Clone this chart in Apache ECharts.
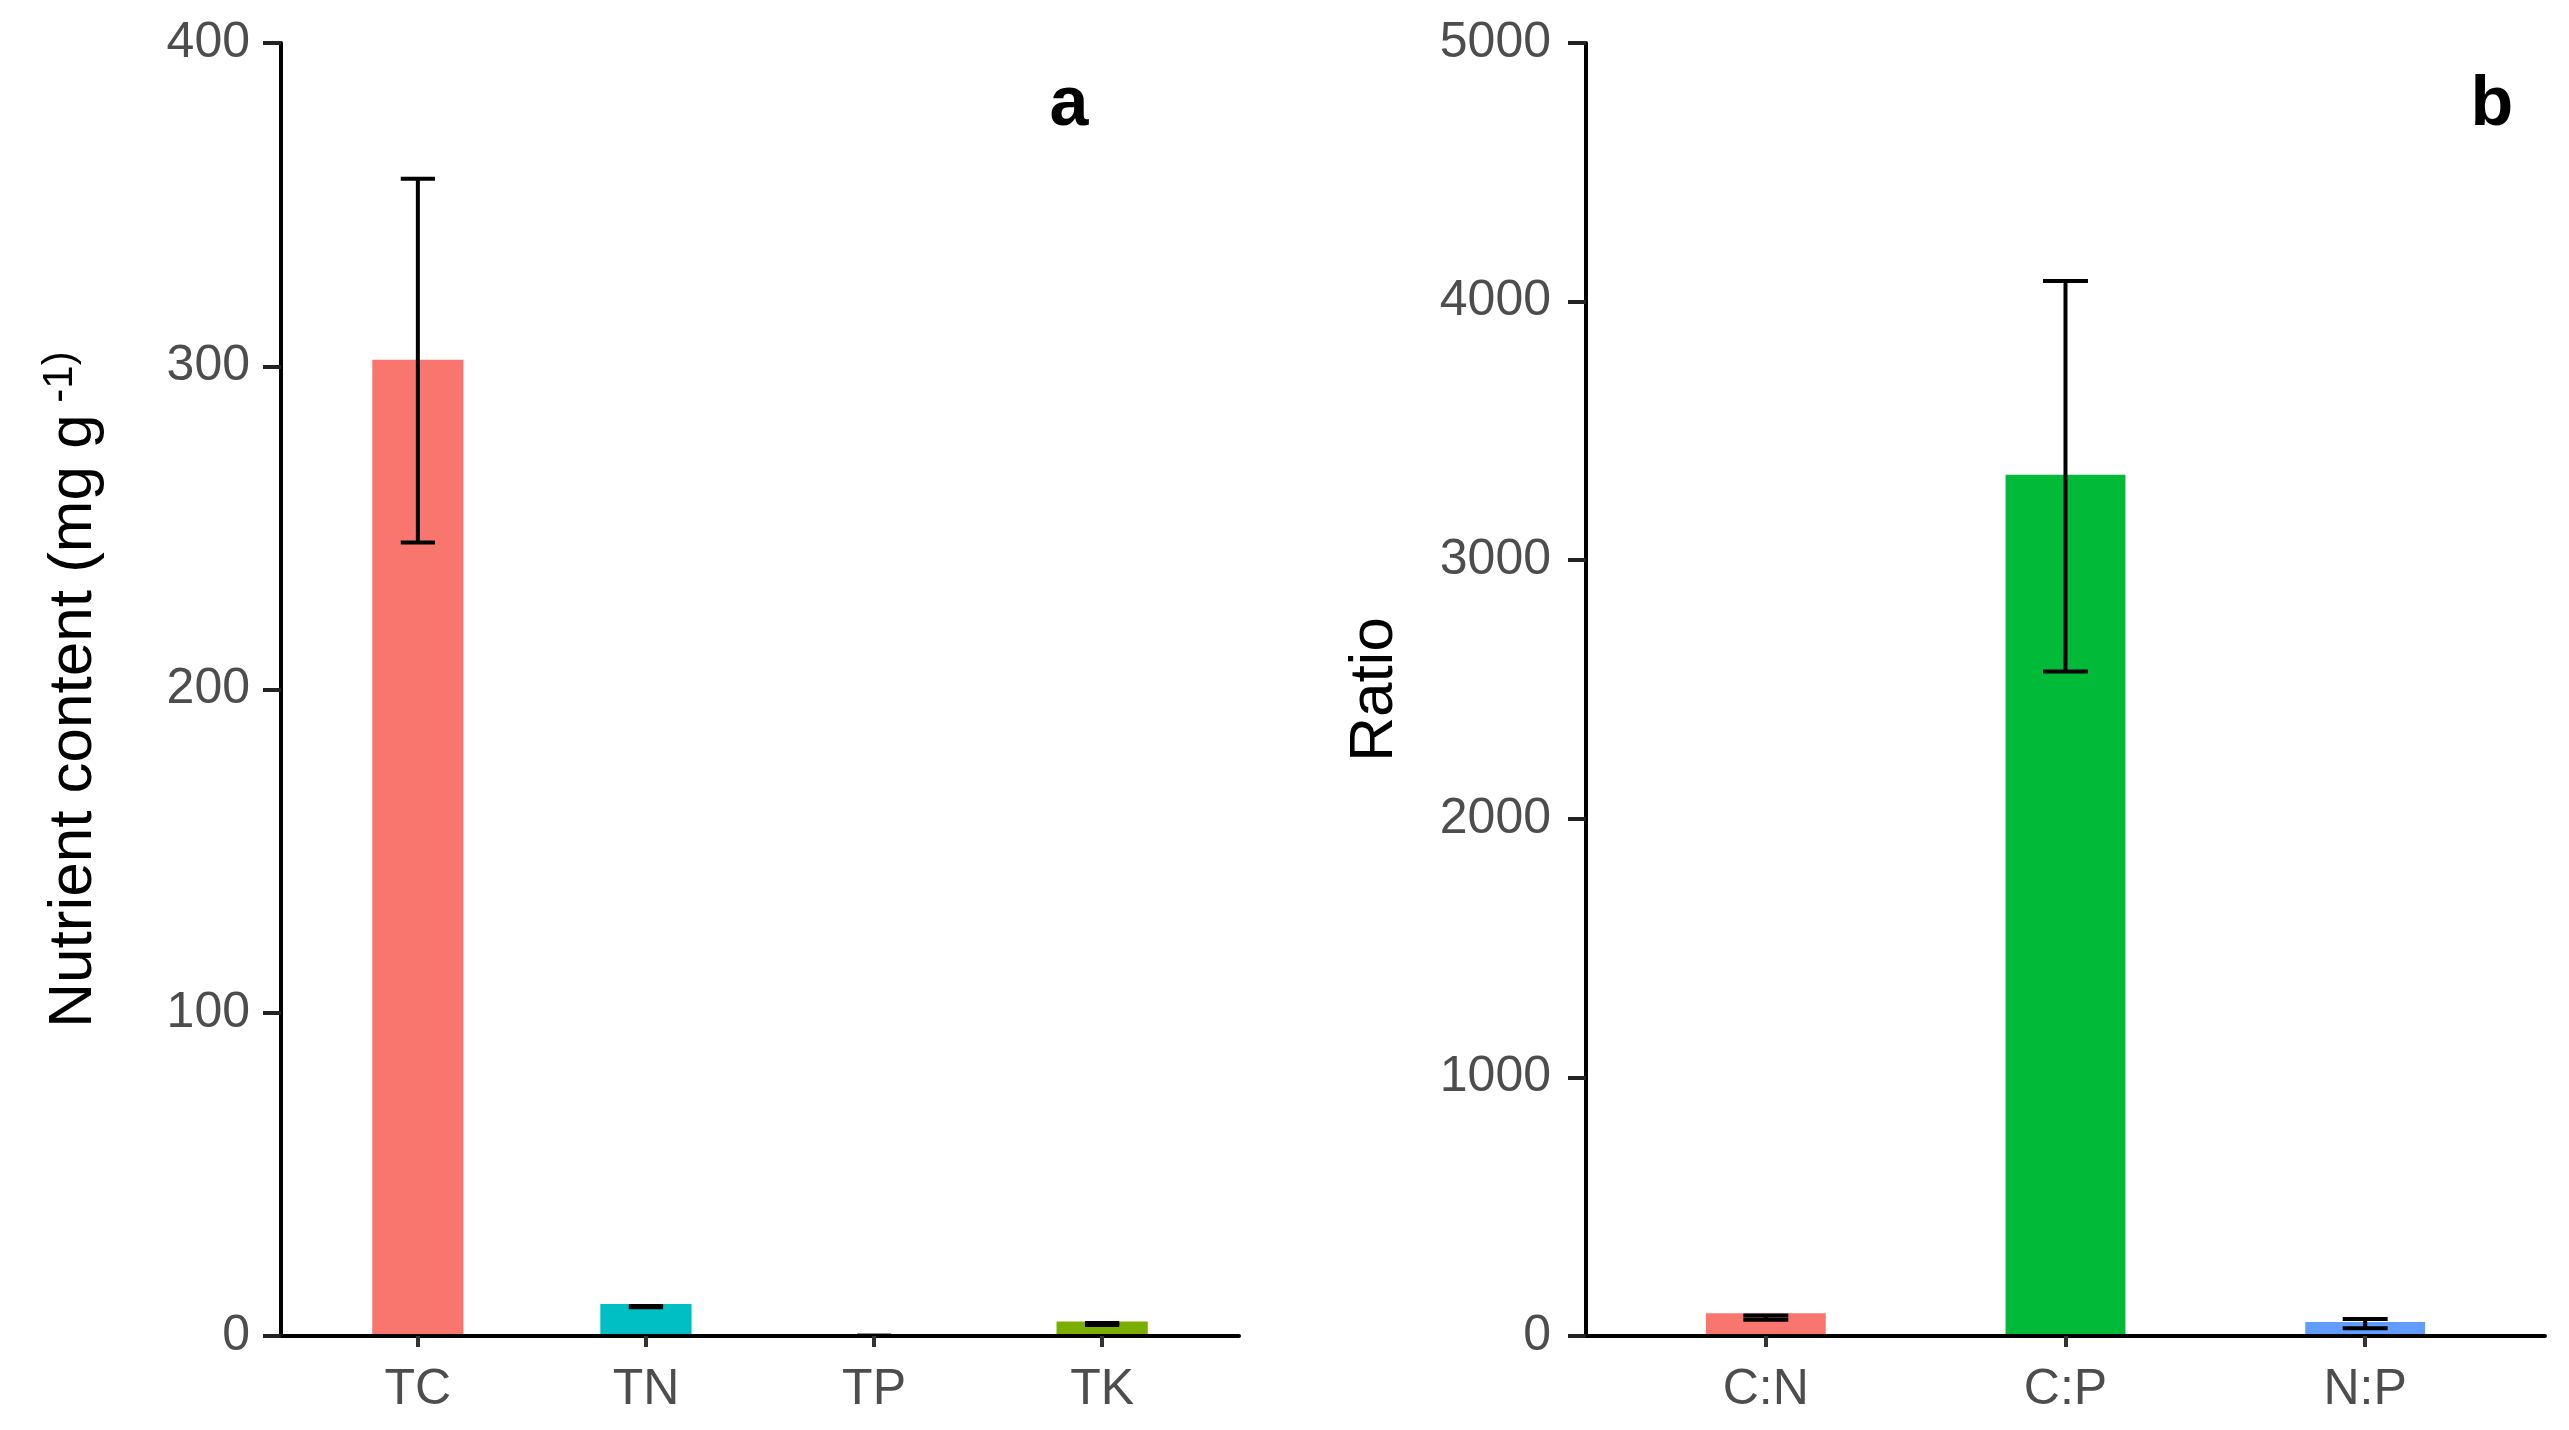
<!DOCTYPE html>
<html>
<head>
<meta charset="utf-8">
<title>Nutrient content and ratios</title>
<script src="https://cdn.jsdelivr.net/npm/echarts@6/dist/echarts.min.js"></script>
<style>
  html, body { margin: 0; padding: 0; background: #fff; }
  #chart { width: 2569px; height: 1430px; }
</style>
</head>
<body>
<div id="chart"></div>
<script>
// panel a: nutrient content (mg g-1)
const nutrientCats = ['TC', 'TN', 'TP', 'TK']
const nutrientMean = [302, 9.9, 0.05, 4.5]
const nutrientLow = [245.5, 8.9, 0.04, 3.4]
const nutrientHigh = [358, 9.3, 0.06, 4.0]
const nutrientColors = ['#F8766D', '#00BFC4', '#C77CFF', '#7CAE00']

// panel b: stoichiometric ratios
const ratioCats = ['C:N', 'C:P', 'N:P']
const ratioMean = [88, 3330, 54]
const ratioLow = [63, 2570, 30]
const ratioHigh = [79, 4080, 66]
const ratioColors = ['#F8766D', '#00BA38', '#619CFF']

const FONT = '"Liberation Sans", Arial, sans-serif'

const chart = echarts.init(document.getElementById('chart'))

// grid geometry (px)
const gridA = { left: 281, top: 43, width: 958, height: 1293 }
const gridB = { left: 1586, top: 43, width: 959, height: 1293 }

const errorBarRender = (params, api) => {
  const x = api.value(0)
  const lo = api.coord([x, api.value(1)])
  const hi = api.coord([x, api.value(2)])
  const half = api.size([0.15, 0])[0] / 2
  const style = { stroke: '#000', lineWidth: 4 }
  return {
    type: 'group',
    children: [
      { type: 'line', shape: { x1: hi[0], y1: hi[1], x2: lo[0], y2: lo[1] }, style },
      { type: 'line', shape: { x1: hi[0] - half, y1: hi[1], x2: hi[0] + half, y2: hi[1] }, style },
      { type: 'line', shape: { x1: lo[0] - half, y1: lo[1], x2: lo[0] + half, y2: lo[1] }, style }
    ]
  }
}

const xAxisBase = (gridIndex, cats) => ({
  type: 'value',
  gridIndex,
  min: -0.6,
  max: cats.length - 1 + 0.6,
  z: 10,
  axisLine: { show: true, onZero: false, lineStyle: { color: '#000', width: 4 } },
  axisTick: {
    show: true,
    customValues: cats.map((c, i) => i),
    length: 11,
    lineStyle: { color: '#333', width: 4 }
  },
  axisLabel: {
    customValues: cats.map((c, i) => i),
    formatter: v => cats[Math.round(v)],
    margin: 29,
    fontSize: 50,
    color: '#4D4D4D',
    fontFamily: FONT
  },
  splitLine: { show: false }
})

const yAxisBase = (gridIndex, max, interval, margin) => ({
  type: 'value',
  gridIndex,
  min: 0,
  max,
  interval,
  z: 10,
  axisLine: { show: true, onZero: false, lineStyle: { color: '#000', width: 4 } },
  axisTick: { show: true, length: 18, lineStyle: { color: '#222', width: 4 } },
  axisLabel: {
    margin,
    fontSize: 50,
    color: '#4D4D4D',
    fontFamily: FONT,
    padding: [8, 0, 0, 0],
    formatter: v => String(v)
  },
  splitLine: { show: false },
  nameLocation: 'middle',
  nameRotate: 90
})

const option = {
  backgroundColor: '#fff',
  animation: false,
  grid: [gridA, gridB],
  xAxis: [xAxisBase(0, nutrientCats), xAxisBase(1, ratioCats)],
  yAxis: [
    Object.assign(yAxisBase(0, 400, 100, 31), {
      name: '{t|Nutrient content (mg g}{s| -1)}',
      nameGap: 172,
      nameTextStyle: {
        rich: {
          t: { fontSize: 62, color: '#000', fontFamily: FONT, lineHeight: 70 },
          s: { fontSize: 42, color: '#000', fontFamily: FONT, verticalAlign: 'top', lineHeight: 70 }
        }
      }
    }),
    Object.assign(yAxisBase(1, 5000, 1000, 35), {
      name: 'Ratio',
      nameGap: 180,
      nameTextStyle: { fontSize: 62, color: '#000', fontFamily: FONT }
    })
  ],
  series: [
    {
      type: 'bar',
      xAxisIndex: 0,
      yAxisIndex: 0,
      z: 2,
      barWidth: 0.4 * gridA.width / 4.2,
      data: nutrientMean.map((v, i) => ({ value: [i, v], itemStyle: { color: nutrientColors[i] } }))
    },
    {
      type: 'custom',
      xAxisIndex: 0,
      yAxisIndex: 0,
      z: 5,
      renderItem: errorBarRender,
      data: nutrientMean.map((v, i) => [i, nutrientLow[i], nutrientHigh[i]])
    },
    {
      type: 'bar',
      xAxisIndex: 1,
      yAxisIndex: 1,
      z: 2,
      barWidth: 0.4 * gridB.width / 3.2,
      data: ratioMean.map((v, i) => ({ value: [i, v], itemStyle: { color: ratioColors[i] } }))
    },
    {
      type: 'custom',
      xAxisIndex: 1,
      yAxisIndex: 1,
      z: 5,
      renderItem: errorBarRender,
      data: ratioMean.map((v, i) => [i, ratioLow[i], ratioHigh[i]])
    }
  ],
  graphic: [
    { type: 'text', x: 1069, y: 106, style: { text: 'a', font: 'bold 70px ' + FONT, fill: '#000', align: 'center', verticalAlign: 'middle' } },
    { type: 'text', x: 2492, y: 106, style: { text: 'b', font: 'bold 70px ' + FONT, fill: '#000', align: 'center', verticalAlign: 'middle' } }
  ]
}

chart.setOption(option)
</script>
</body>
</html>
